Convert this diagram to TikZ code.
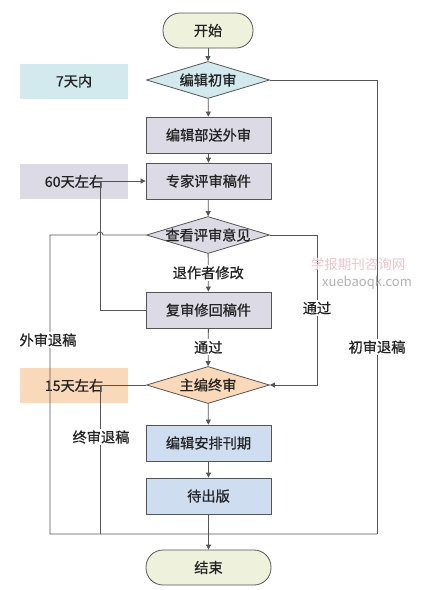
\documentclass[tikz,border=0pt]{standalone}
\usepackage{fontspec}
\setmainfont{Noto Sans CJK SC}[FakeBold=0.7]
\newfontfamily\wmfont{Noto Sans CJK SC}
\usetikzlibrary{shapes.geometric,arrows.meta}
\definecolor{linec}{HTML}{555555}
\definecolor{startc}{HTML}{EEF1DC}
\definecolor{cyanc}{HTML}{D2E9EE}
\definecolor{grayc}{HTML}{DCDAE5}
\definecolor{peachc}{HTML}{FAD9BA}
\definecolor{bluec}{HTML}{CEDDF0}
\definecolor{textc}{HTML}{222222}
\definecolor{wmpink}{HTML}{EDC3CB}
\begin{document}
\begin{tikzpicture}[x=1pt,y=-1pt,
  every node/.style={font=\fontsize{14.2}{16}\selectfont, text=textc},
  term/.style={draw=linec, line width=0.8pt, rounded corners=17pt, minimum height=35pt, inner sep=0pt},
  proc/.style={draw=linec, line width=0.8pt, minimum width=125pt, minimum height=36pt, inner sep=0pt},
  dec/.style={diamond, draw=linec, line width=0.8pt, shape aspect=3.3, minimum width=123pt, minimum height=37pt, inner sep=0pt},
  side/.style={minimum width=108pt, minimum height=35pt, inner sep=0pt},
  lab/.style={fill=white, inner sep=1.5pt},
  conn/.style={draw=linec, line width=0.8pt},
  arr/.style={conn, -{Triangle[length=5pt,width=5pt]}}
]
\useasboundingbox (0,0) rectangle (421,590);
\fill[white] (0,0) rectangle (421,590);

% side boxes
\node[side, fill=cyanc] (s1) at (74,81) {7天内};
\node[side, fill=grayc] (s2) at (74,181.5) {60天左右};
\node[side, fill=peachc] (s3) at (74,385.5) {15天左右};

% main flow
\node[term, fill=startc, minimum width=90pt] (start) at (208,30.5) {开始};
\node[dec, fill=cyanc] (d1) at (208,80) {\makebox[0pt]{编辑初审}};
\node[proc, fill=grayc] (b1) at (208.5,135) {编辑部送外审};
\node[proc, fill=grayc] (b2) at (208.5,181) {专家评审稿件};
\node[dec, fill=grayc] (d2) at (208,235) {\makebox[0pt]{查看评审意见}};
\node[proc, fill=grayc] (b3) at (208.5,310) {复审修回稿件};
\node[dec, fill=peachc] (d3) at (208,385) {\makebox[0pt]{主编终审}};
\node[proc, fill=bluec] (b4) at (208.5,443) {编辑安排刊期};
\node[proc, fill=bluec] (b5) at (208.5,496) {待出版};
\node[term, fill=startc, minimum width=125pt] (end) at (208.5,567.5) {结束};

% straight arrows
\draw[arr] (start) -- (d1);
\draw[arr] (d1) -- (b1);
\draw[arr] (b1) -- (b2);
\draw[arr] (b2) -- (d2);
\draw[arr] (d2) -- node[lab] (l1) {退作者修改} (b3);
\draw[arr] (b3) -- node[lab] (l2) {通过} (d3);
\draw[arr] (d3) -- (b4);
\draw[arr] (b4) -- (b5);
\draw[arr] (b5) -- (end);

% revision loop back to expert review
\draw[arr] (b3.west) -- (100,310) -- (100,181) -- (b2.west);

% external rejection with hop
\draw[conn] (d2.west) -- (103,235) arc[start angle=0,end angle=180,radius=3pt] -- (50,235) -- (50,534) -- (377,534);
% initial rejection
\draw[conn] (d1.east) -- (377,80) -- (377,534);
% final rejection
\draw[conn] (d3.west) -- (100,385) -- (100,534);
% pass to final review
\draw[arr] (d2.east) -- (317,235) -- (317,385) -- (d3.east);

% labels on lines
\node[lab] (l3) at (317,308) {通过};
\node[lab] (l4) at (48,340) {外审退稿};
\node[lab] (l5) at (377,347) {初审退稿};
\node[lab] (l6) at (101,437) {终审退稿};

% watermark
\node[text=wmpink, font=\fontsize{13.5}{15}\wmfont] (wm1) at (358,264) {学报期刊咨询网};
\node[text=black!30, font=\fontsize{13}{15}\wmfont] (wm2) at (367,283) {xuebaoqk.com};
\end{tikzpicture}
\end{document}
